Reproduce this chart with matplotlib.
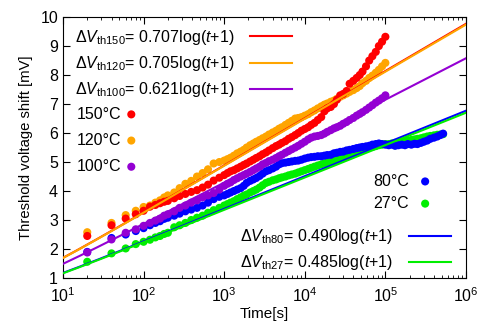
import numpy as np
import matplotlib.pyplot as plt
from matplotlib.ticker import LogLocator, NullFormatter

plt.rcParams['font.family'] = 'Liberation Sans'
plt.rcParams['mathtext.fontset'] = 'custom'
plt.rcParams['mathtext.rm'] = 'Liberation Sans'
plt.rcParams['mathtext.it'] = 'Liberation Sans:italic'

# measurement times [s]
t_short = [20, 40, 60, 80, 100, 120, 140, 160, 180, 200,
           240, 280, 330, 390, 460, 540, 630, 740, 870, 1000,
           1100, 1200, 1320, 1450, 1600, 1750, 1900, 2100, 2300, 2500,
           2750, 3000, 3300, 3600, 4000, 4400, 4800, 5200, 5750, 6300,
           6900, 7600, 8300, 9100, 10000, 11000, 12000, 13200, 14500, 16000,
           17500, 19000, 21000, 23000, 25000, 27500, 30000, 33000, 36000, 40000,
           44000, 48000, 52000, 57500, 63000, 69000, 76000, 83000, 91000, 100000]
t_long = t_short + [110000, 120000, 132000, 145000, 160000, 175000, 190000, 210000, 230000, 250000,
                    275000, 300000, 330000, 360000, 400000, 440000, 480000, 520000]

# threshold voltage shift [mV]
v150 = [2.45, 2.82, 3.05, 3.2, 3.32, 3.46, 3.52, 3.58, 3.63, 3.66,
        3.75, 3.83, 3.9, 3.97, 4.03, 4.12, 4.22, 4.36, 4.46, 4.55,
        4.62, 4.68, 4.72, 4.78, 4.84, 4.9, 4.95, 5.02, 5.08, 5.14,
        5.2, 5.27, 5.33, 5.4, 5.48, 5.55, 5.6, 5.66, 5.72, 5.8,
        5.86, 5.93, 6.0, 6.08, 6.14, 6.2, 6.28, 6.35, 6.45, 6.55,
        6.75, 6.85, 6.9, 7.0, 7.15, 7.3, 7.35, 7.45, 7.7, 7.8,
        7.9, 8.0, 8.12, 8.3, 8.5, 8.65, 8.8, 9.0, 9.15, 9.32]
v120 = [2.58, 2.9, 3.17, 3.32, 3.45, 3.5, 3.6, 3.68, 3.78, 3.85,
        3.95, 4.1, 4.25, 4.35, 4.5, 4.62, 4.75, 4.95, 5.0, 5.05,
        5.1, 5.15, 5.22, 5.3, 5.36, 5.42, 5.5, 5.58, 5.64, 5.7,
        5.76, 5.82, 5.88, 5.95, 6.02, 6.08, 6.15, 6.2, 6.28, 6.35,
        6.42, 6.5, 6.52, 6.55, 6.6, 6.65, 6.72, 6.78, 6.85, 6.92,
        6.98, 7.02, 7.08, 7.12, 7.18, 7.25, 7.3, 7.36, 7.42, 7.48,
        7.55, 7.62, 7.72, 7.8, 7.9, 7.98, 8.08, 8.18, 8.3, 8.42]
v100 = [1.88, 2.33, 2.56, 2.68, 2.8, 2.9, 2.98, 3.05, 3.15, 3.2,
        3.3, 3.42, 3.5, 3.6, 3.68, 3.78, 3.85, 3.93, 4.05, 4.18,
        4.25, 4.3, 4.38, 4.44, 4.5, 4.55, 4.6, 4.66, 4.72, 4.78,
        4.84, 4.92, 4.97, 5.03, 5.08, 5.14, 5.2, 5.25, 5.32, 5.38,
        5.44, 5.5, 5.56, 5.63, 5.7, 5.78, 5.84, 5.88, 5.9, 5.93,
        5.98, 6.04, 6.1, 6.16, 6.2, 6.25, 6.32, 6.38, 6.45, 6.52,
        6.6, 6.66, 6.72, 6.8, 6.88, 6.96, 7.05, 7.12, 7.2, 7.3]
v80 = [1.9, 2.38, 2.5, 2.62, 2.72, 2.82, 2.9, 2.96, 3.04, 3.08,
       3.15, 3.22, 3.3, 3.36, 3.42, 3.5, 3.6, 3.72, 3.8, 3.85,
       3.9, 3.95, 4.0, 4.05, 4.1, 4.18, 4.28, 4.35, 4.4, 4.45,
       4.52, 4.6, 4.68, 4.72, 4.78, 4.84, 4.92, 4.96, 4.98, 5.0,
       5.02, 5.04, 5.05, 5.08, 5.12, 5.15, 5.17, 5.18, 5.2, 5.2,
       5.22, 5.24, 5.25, 5.3, 5.32, 5.35, 5.36, 5.4, 5.42, 5.45,
       5.48, 5.5, 5.52, 5.54, 5.56, 5.6, 5.62, 5.64, 5.62, 5.6,
       5.58, 5.6, 5.56, 5.58, 5.6, 5.58, 5.62, 5.6, 5.63, 5.62,
       5.66, 5.7, 5.74, 5.8, 5.84, 5.88, 5.93, 5.98]
v27 = [1.56, 1.85, 2.02, 2.17, 2.25, 2.32, 2.4, 2.45, 2.52, 2.56,
       2.75, 2.82, 2.9, 3.0, 3.08, 3.15, 3.25, 3.34, 3.42, 3.5,
       3.55, 3.6, 3.65, 3.72, 3.78, 3.84, 3.88, 3.95, 4.0, 4.05,
       4.12, 4.2, 4.28, 4.32, 4.37, 4.4, 4.44, 4.47, 4.5, 4.54,
       4.57, 4.6, 4.64, 4.68, 4.72, 4.76, 4.8, 4.84, 4.88, 4.92,
       4.95, 4.98, 5.02, 5.06, 5.1, 5.14, 5.18, 5.22, 5.28, 5.32,
       5.36, 5.4, 5.44, 5.47, 5.5, 5.52, 5.55, 5.58, 5.6, 5.62,
       5.62, 5.64, 5.66, 5.68, 5.7, 5.72, 5.74, 5.76, 5.78, 5.8,
       5.82, 5.85, 5.88, 5.9, 5.92, 5.94, 5.95, 5.96]

# fitted slopes: dVth = a*log(t+1)
temps = ['150', '120', '100', '80', '27']
coef = [0.707, 0.705, 0.621, 0.490, 0.485]
colors = ['#ff0000', '#ffa500', '#9400d3', '#0000ff', '#00ee00']

fig = plt.figure(figsize=(4.86, 3.22), dpi=100)
ax = fig.add_axes([0.1296, 0.1366, 0.8292, 0.8104])

series = [(t_short, v150), (t_short, v120), (t_short, v100), (t_long, v80), (t_long, v27)]
pts = {}
for i in [4, 3, 2, 1, 0]:
    t, v = series[i]
    pts[i] = ax.scatter(t, v, s=34, color=colors[i], edgecolors='none', zorder=2,
                        label=temps[i] + '°C')

tt = np.logspace(1, 6, 200)
lines = {}
for i in range(5):
    lab = r'Δ$\mathit{V}_{\mathrm{th%s}}$= %.3flog($\mathit{t}$+1)' % (temps[i], coef[i])
    lines[i], = ax.plot(tt, coef[i] * np.log(tt + 1), color=colors[i], lw=1.5, zorder=3,
                        label=lab)

ax.set_xscale('log')
ax.set_xlim(10, 1e6)
ax.set_ylim(1, 10)
ax.set_yticks(range(1, 11))
ax.xaxis.set_minor_locator(LogLocator(base=10, subs=np.arange(2, 10), numticks=20))
ax.xaxis.set_minor_formatter(NullFormatter())
ax.tick_params(which='both', direction='in', top=True, right=True, labelsize=11.5)
ax.tick_params(which='major', length=5)
ax.tick_params(which='minor', length=2.5)
ax.tick_params(axis='x', pad=6)
ax.set_xlabel('Time[s]', fontsize=11, labelpad=1.5)
ax.set_ylabel('Threshold voltage shift [mV]', fontsize=10.7, labelpad=5)

kw = dict(frameon=False, markerfirst=False, fontsize=11.5, borderpad=0, borderaxespad=0)
leg1 = ax.legend(handles=[lines[0], lines[1], lines[2]], loc='upper left',
                 bbox_to_anchor=(0.03, 0.958), handlelength=2.6, handletextpad=1.0,
                 labelspacing=0.45, **kw)
ax.add_artist(leg1)
leg2 = ax.legend(handles=[pts[0], pts[1], pts[2]], loc='upper left',
                 bbox_to_anchor=(0.035, 0.657), handlelength=1.0, handletextpad=0.1,
                 labelspacing=0.7, **kw)
ax.add_artist(leg2)
leg3 = ax.legend(handles=[pts[3], pts[4]], loc='upper left',
                 bbox_to_anchor=(0.77, 0.40), handlelength=1.0, handletextpad=0.5,
                 labelspacing=0.45, **kw)
ax.add_artist(leg3)
leg4 = ax.legend(handles=[lines[3], lines[4]], loc='upper left',
                 bbox_to_anchor=(0.44, 0.195), handlelength=2.6, handletextpad=1.0,
                 labelspacing=0.45, **kw)

fig.savefig('out.png', dpi=100)
